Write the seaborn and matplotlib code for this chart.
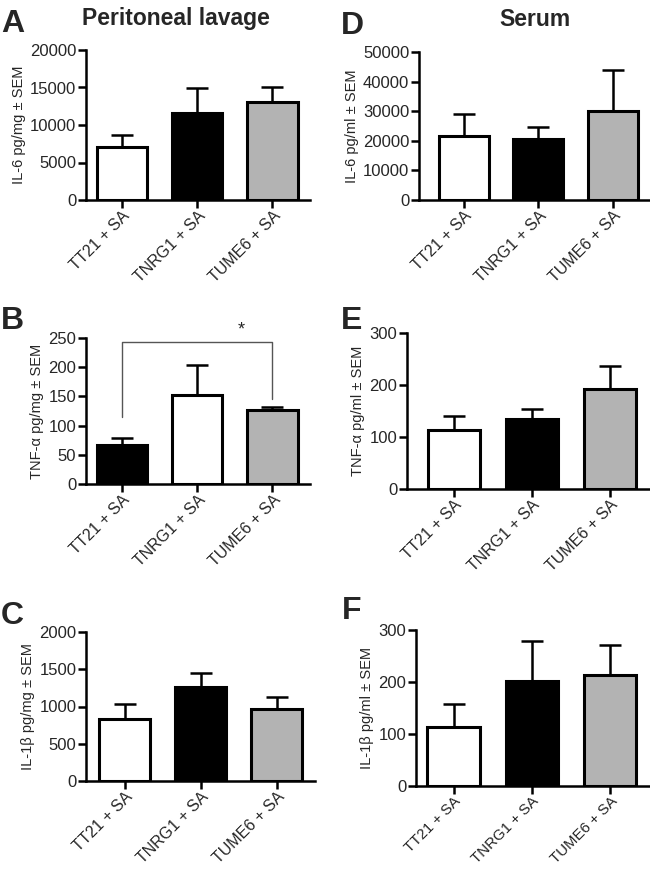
import numpy as np
import pandas as pd
import matplotlib
matplotlib.use("Agg")
import matplotlib.pyplot as plt
import seaborn as sns

sns.set_theme(style="ticks")
plt.rcParams["font.family"] = ["Liberation Sans", "DejaVu Sans"]

# gruppi e valori (media e SEM)
groups = ["TT21 + SA", "TNRG1 + SA", "TUME6 + SA"]

il6_lavage = [7050, 11550, 13100]
il6_lavage_sem = [1650, 3350, 1900]
tnf_lavage = [66, 153, 126]
tnf_lavage_sem = [12, 50, 6]
il1b_lavage = [826, 1263, 964]
il1b_lavage_sem = [205, 180, 165]

il6_serum = [21580, 20450, 30000]
il6_serum_sem = [7400, 4050, 13830]
tnf_serum = [113, 134, 192]
tnf_serum_sem = [27, 19.5, 45]
il1b_serum = [114, 202, 213]
il1b_serum_sem = [44, 77, 58]

# significativita' nel pannello B
sig_pair = [0, 2]
sig_y = 244
sig_leg_ends = [114, 146]

white, black, grey = "white", "black", "#b3b3b3"

W, H = 650, 873
fig = plt.figure(figsize=(W / 100, H / 100), dpi=100)


def make_ax(left, right, top, bottom):
    return fig.add_axes([left / W, 1 - bottom / H, (right - left) / W, (bottom - top) / H])


panels = [
    # lettera, valori, sem, colori, ylabel, ymax, passo, box(px), xlim, pos lettera, size xlabel
    ("A", il6_lavage, il6_lavage_sem, [white, black, grey], "IL-6 pg/mg ± SEM",
     20000, 5000, (86, 310, 50, 200), (-0.48, 2.5), (1, 32), 11.5),
    ("B", tnf_lavage, tnf_lavage_sem, [black, white, grey], "TNF-α pg/mg ± SEM",
     250, 50, (86, 310, 338, 484), (-0.48, 2.5), (1, 329), 11.5),
    ("C", il1b_lavage, il1b_lavage_sem, [white, black, grey], "IL-1β pg/mg ± SEM",
     2000, 500, (86, 315, 632, 781), (-0.51, 2.5), (1, 624), 11.5),
    ("D", il6_serum, il6_serum_sem, [white, black, grey], "IL-6 pg/ml ± SEM",
     50000, 10000, (419, 650, 52, 200), (-0.6, 2.5), (341, 34), 11.5),
    ("E", tnf_serum, tnf_serum_sem, [white, black, grey], "TNF-α pg/ml ± SEM",
     300, 100, (407, 650, 333, 489), (-0.6, 2.51), (341, 329), 11.5),
    ("F", il1b_serum, il1b_serum_sem, [white, black, grey], "IL-1β pg/ml ± SEM",
     300, 100, (416, 650, 630, 786), (-0.48, 2.51), (342, 619), 10.8),
]

for letter, vals, sem, cols, ylab, ymax, step, box, xlim, lpos, xls in panels:
    ax = make_ax(*box)
    df = pd.DataFrame({"gruppo": groups, "valore": vals})
    sns.barplot(data=df, x="gruppo", y="valore", hue="gruppo", palette=cols,
                edgecolor="black", linewidth=2.2, width=0.67, errorbar=None,
                legend=False, ax=ax)
    ax.errorbar(np.arange(len(groups)), vals, yerr=[np.zeros(len(sem)), sem],
                fmt="none", ecolor="black", elinewidth=1.8, capsize=8,
                capthick=1.8, zorder=1)
    ax.set_ylim(0, ymax)
    ax.set_yticks(np.arange(0, ymax + 1, step))
    ax.set_xlim(*xlim)
    ax.set_xlabel("")
    ax.set_ylabel(ylab, fontsize=10.5, labelpad=3)
    sns.despine(ax=ax)
    for s in ["left", "bottom"]:
        ax.spines[s].set_linewidth(1.8)
        ax.spines[s].set_color("black")
    ax.tick_params(axis="both", width=1.8, length=6, color="black", pad=1)
    ax.tick_params(axis="y", labelsize=12)
    ax.tick_params(axis="x", labelsize=xls, pad=0)
    plt.setp(ax.get_xticklabels(), rotation=45, ha="right", rotation_mode="anchor")
    fig.text(lpos[0] / W, 1 - lpos[1] / H, letter, fontsize=23,
             fontweight="bold", ha="left", va="baseline")

    if letter == "B":
        ax.plot([sig_pair[0], sig_pair[0], sig_pair[1], sig_pair[1]],
                [sig_leg_ends[0], sig_y, sig_y, sig_leg_ends[1]],
                color="#555555", lw=1, clip_on=False)
        ax.text(1.58, sig_y + 5, "*", ha="center", va="bottom", fontsize=13,
                clip_on=False)

fig.text(176 / W, 1 - 19 / H, "Peritoneal lavage", fontsize=16.5,
         fontweight="bold", ha="center", va="center")
fig.text(535 / W, 1 - 19 / H, "Serum", fontsize=16.5, fontweight="bold",
         ha="center", va="center")

fig.savefig("out.png", dpi=100, facecolor="white")
